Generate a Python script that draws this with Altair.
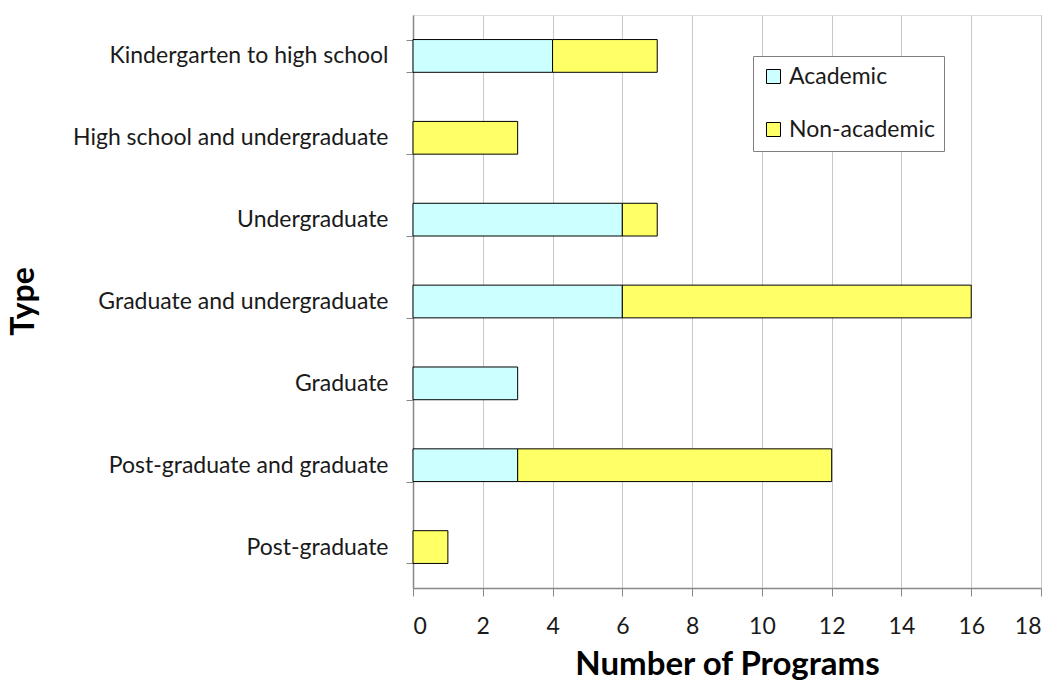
import altair as alt
import pandas as pd

categories = [
    "Kindergarten to high school",
    "High school and undergraduate",
    "Undergraduate",
    "Graduate and undergraduate",
    "Graduate",
    "Post-graduate and graduate",
    "Post-graduate",
]
academic = [4, 0, 6, 6, 3, 3, 0]
non_academic = [3, 3, 1, 10, 0, 9, 1]
series = ["Academic", "Non-academic"]
colors = ["#CCFFFF", "#FFFF66"]
x_ticks = [0, 2, 4, 6, 8, 10, 12, 14, 16, 18]

rows = []
for c, a, n in zip(categories, academic, non_academic):
    rows.append({"Type": c, "Series": series[0], "Count": a, "ord": 0})
    rows.append({"Type": c, "Series": series[1], "Count": n, "ord": 1})
df = pd.DataFrame(rows)
df = df[df["Count"] > 0]

FONT = "Lato"

chart = (
    alt.Chart(df)
    .mark_bar(stroke="black", strokeWidth=1)
    .encode(
        y=alt.Y(
            "Type:N",
            sort=categories,
            scale=alt.Scale(paddingInner=0.6, paddingOuter=0.3),
            axis=alt.Axis(
                title="Type",
                titleFontSize=32,
                titleFont=FONT,
                titleFontWeight="bold",
                titleAngle=270,
                titleX=-390,
                titleY=286,
                titleAlign="center",
                titleBaseline="middle",
                labelFontSize=23,
                labelFont=FONT,
                labelColor="#1a1a1a",
                labelPadding=18,
                labelLimit=400,
                tickBand="extent",
                tickSize=7,
                tickColor="#888888",
                domainColor="#888888",
                domainWidth=1.5,
                grid=False,
            ),
        ),
        x=alt.X(
            "Count:Q",
            stack="zero",
            scale=alt.Scale(domain=[0, 18], nice=False),
            axis=alt.Axis(
                values=x_ticks,
                title="Number of Programs",
                titleFontSize=33,
                titleFont=FONT,
                titleFontWeight="bold",
                titlePadding=10,
                labelFontSize=23,
                labelFont=FONT,
                labelColor="#1a1a1a",
                labelPadding=19,
                tickSize=8,
                tickColor="#888888",
                domainColor="#888888",
                domainWidth=1.5,
                grid=True,
                gridColor="#C8C8C8",
                gridWidth=1,
            ),
        ),
        color=alt.Color(
            "Series:N",
            scale=alt.Scale(domain=series, range=colors),
            legend=alt.Legend(
                title=None,
                orient="none",
                legendX=340,
                legendY=41,
                symbolType="square",
                symbolSize=196,
                symbolStrokeColor="black",
                symbolStrokeWidth=1,
                labelFontSize=23,
                labelFont=FONT,
                labelColor="#1a1a1a",
                rowPadding=29,
                padding=9,
                strokeColor="#7F7F7F",
                fillColor="white",
                labelLimit=300,
            ),
        ),
        order=alt.Order("ord:Q"),
    )
    .properties(
        width=628,
        height=573,
        autosize=alt.AutoSizeParams(type="none"),
        padding={"left": 413, "top": 15, "right": 14, "bottom": 98},
    )
    .configure_view(stroke=None)
    .configure_legend(strokeWidth=2)
    .configure(background="white")
)

chart.save("out.html", embed_options={"renderer": "svg", "actions": False})
